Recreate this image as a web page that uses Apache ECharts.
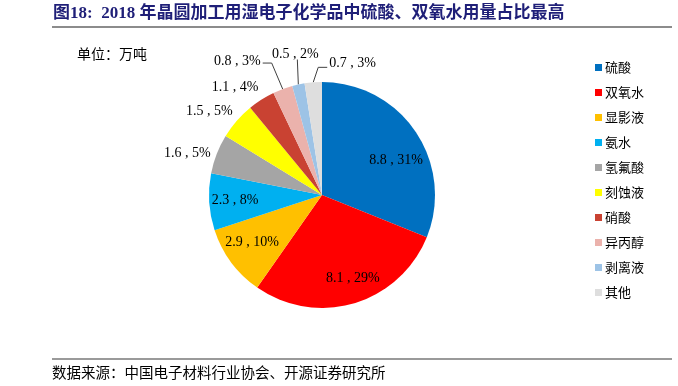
<!DOCTYPE html>
<html>
<head>
<meta charset="utf-8">
<script src="https://cdn.jsdelivr.net/npm/echarts@6/dist/echarts.min.js"></script>
<style>html,body{margin:0;padding:0;background:#fff;}#c{width:678px;height:386px;}</style>
</head>
<body>
<div id="c"></div>
<script>
var categories = ['硫酸','双氧水','显影液','氨水','氢氟酸','刻蚀液','硝酸','异丙醇','剥离液','其他'];
var values = [8.8, 8.1, 2.9, 2.3, 1.6, 1.5, 1.1, 0.8, 0.5, 0.7];
var percents = [31, 29, 10, 8, 5, 5, 4, 3, 2, 3];
var colors = ['#0070C0','#FF0000','#FFC000','#00B0F0','#A5A5A5','#FFFF00','#C94232','#EBB2AC','#9DC3E6','#DEDEDE'];
var titleText = '图18:  2018 年晶圆加工用湿电子化学品中硫酸、双氧水用量占比最高';
var unitText = '单位：万吨';
var sourceText = '数据来源：中国电子材料行业协会、开源证券研究所';

var INSIDE_COUNT = 4;
var serif = '"Liberation Serif","Times New Roman",serif';
var cjk = '"Noto Sans CJK SC",sans-serif';

function lbl(i){ return values[i].toFixed(1) + ' , ' + percents[i] + '%'; }

var outerData = categories.map(function(n, i){
  var d = { name: n, value: values[i], itemStyle: { color: colors[i] } };
  if (i < INSIDE_COUNT) {
    d.label = { show: false }; d.labelLine = { show: false };
  } else {
    d.label = { show: true };
    d.labelLine = { show: i >= 7 };
  }
  return d;
});
var innerData = categories.map(function(n, i){
  return { name: n, value: values[i], label: { show: i < INSIDE_COUNT } };
});

var chart = echarts.init(document.getElementById('c'), null, { renderer: 'canvas' });
chart.setOption({
  animation: false,
  backgroundColor: '#fff',
  color: colors,
  legend: {
    orient: 'vertical', left: 590, top: 56,
    itemWidth: 7, itemHeight: 7, itemGap: 12,
    icon: 'rect',
    textStyle: { fontFamily: cjk, fontSize: 13, color: '#000', padding: [0,0,0,-2] },
    data: categories
  },
  graphic: [
    { type: 'text', left: 53, top: 5, style: { text: titleText, fontFamily: '"Liberation Serif",' + cjk, fontWeight: 'bold', fontSize: 17, fill: '#1F1F78' } },
    { type: 'line', shape: { x1: 52, y1: 27, x2: 672, y2: 27 }, style: { stroke: '#8C8C8C', lineWidth: 2 } },
    { type: 'text', left: 77, top: 47, style: { text: unitText, fontFamily: cjk, fontSize: 14, fill: '#000' } },
    { type: 'line', shape: { x1: 52, y1: 359, x2: 672, y2: 359 }, style: { stroke: '#9A9A9A', lineWidth: 2 } },
    { type: 'text', left: 52, top: 365, style: { text: sourceText, fontFamily: cjk, fontSize: 14.5, fill: '#000' } }
  ],
  series: [
    {
      type: 'pie', center: [322, 195], radius: [0, 113],
      startAngle: 90, clockwise: true, silent: true,
      avoidLabelOverlap: false,
      label: { position: 'outside', fontFamily: serif, fontSize: 14, color: '#000',
               formatter: function(p){ return lbl(p.dataIndex); } },
      labelLine: { length: 10, length2: 8, lineStyle: { color: '#404040', width: 1 } },
      labelLayout: function(p){
        var i = p.dataIndex;
        var p0 = p.labelLinePoints ? p.labelLinePoints[0] : null;
        if (!p0) return {};
        if (i === 4) return { x: p0[0]-6, y: p0[1]-1, align: 'right', verticalAlign: 'middle' };
        if (i === 5) return { x: p0[0]-4, y: p0[1]-10, align: 'right', verticalAlign: 'middle' };
        if (i === 6) return { x: p0[0]-3, y: p0[1]-12, align: 'right', verticalAlign: 'middle' };
        if (i === 7) {
          var a = [p0[0]-11, p0[1]-26], b = [p0[0]-20, p0[1]-26];
          return { x: b[0]-2, y: b[1]-2, align: 'right', verticalAlign: 'middle', labelLinePoints: [p0, a, b] };
        }
        if (i === 8) {
          var c = [p0[0]-1, p0[1]-25];
          return { x: c[0]-2, y: c[1]-5, align: 'center', verticalAlign: 'middle', labelLinePoints: [p0, c, c] };
        }
        if (i === 9) {
          var d = [p0[0]+5, p0[1]-15], e = [p0[0]+14, p0[1]-15];
          return { x: e[0]+2, y: e[1]-4, align: 'left', verticalAlign: 'middle', labelLinePoints: [p0, d, e] };
        }
        return {};
      },
      data: outerData
    },
    {
      type: 'pie', center: [322, 195], radius: [55, 113],
      startAngle: 90, clockwise: true, silent: true,
      itemStyle: { color: 'rgba(0,0,0,0)' },
      label: { position: 'inside', fontFamily: serif, fontSize: 14, color: '#000',
               formatter: function(p){ return lbl(p.dataIndex); } },
      labelLine: { show: false },
      labelLayout: function(p){
        if (p.dataIndex === 0) return { dx: 2, dy: 14 };
        if (p.dataIndex === 1) return { dx: 6 };
        if (p.dataIndex === 2) return { dy: -5 };
        return {};
      },
      data: innerData
    }
  ]
});
</script>
</body>
</html>
